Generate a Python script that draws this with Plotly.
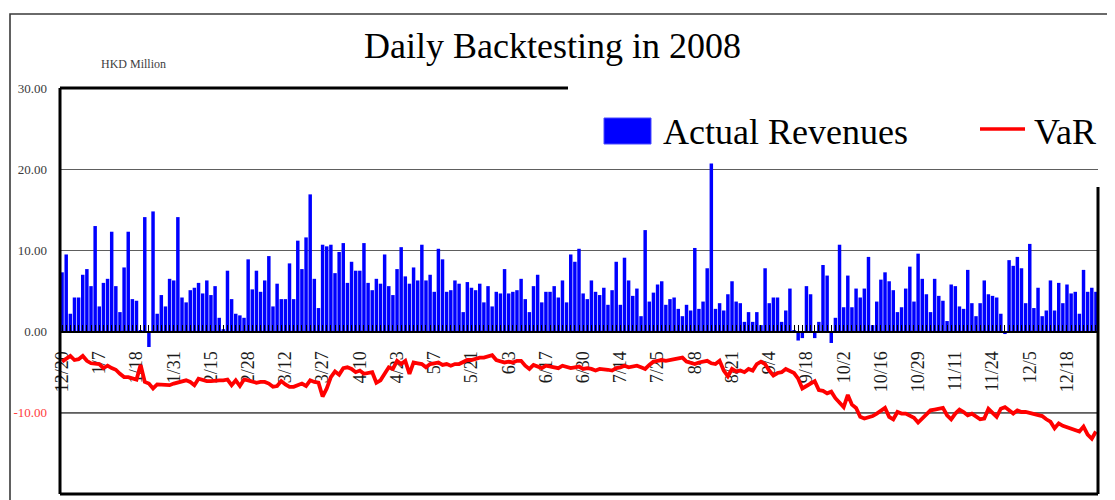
import plotly.graph_objects as go

# ---------------- data (HKD million) ----------------
revenues = [
    7.3, 9.5, 2.2, 4.2, 4.2, 7.0, 7.7, 5.6, 13.0, 3.1,
    6.0, 6.5, 12.3, 5.6, 2.4, 7.9, 12.3, 4.0, 3.8, 0.1,
    14.1, -1.9, 14.8, 2.2, 4.5, 3.1, 6.5, 6.3, 14.1, 4.2,
    3.6, 5.1, 5.4, 6.0, 4.7, 6.3, 4.5, 5.6, 1.7, 0.3,
    7.5, 4.0, 2.2, 2.0, 1.7, 8.9, 5.2, 7.5, 4.9, 6.3,
    9.3, 3.1, 5.9, 4.0, 4.0, 8.4, 4.0, 11.2, 7.7, 11.6,
    16.9, 6.5, 2.9, 10.7, 10.5, 10.7, 7.2, 9.8,
    10.9, 6.0, 8.6, 7.5, 7.5, 10.9, 6.0, 5.1, 6.5, 5.9,
    9.5, 5.6, 4.5, 7.7, 10.4, 6.8, 5.9, 7.9, 6.3, 10.7,
    6.3, 7.0, 4.9, 10.2, 8.9, 4.9, 5.1, 6.3, 5.9, 2.4,
    6.1, 5.4, 5.1, 5.9, 3.6, 5.6, 3.1, 4.9, 4.7, 7.7,
    4.7, 4.9, 5.1, 6.5, 4.0, 2.4, 5.6, 7.0, 3.6, 4.9,
    4.9, 5.6, 4.2, 6.3, 3.6, 9.5, 8.6, 10.2, 4.7, 4.0,
    6.3, 4.9, 4.5, 5.4, 3.3, 5.1, 8.6, 3.3, 9.1, 6.3,
    4.4, 5.3, 1.9, 12.5, 3.7, 4.8, 5.8, 6.2, 3.3, 4.0,
    4.2, 2.8, 1.9, 3.3, 2.6, 10.3, 2.8, 3.7, 7.8, 20.7,
    2.8, 3.5, 2.6, 4.6, 6.2, 3.7, 3.5, 1.2, 2.4, 1.2,
    2.4, 0.8, 7.8, 3.5, 4.2, 4.2, 1.2, 2.6, 5.3, 0.1,
    -1.1, -0.8,
    5.6, 4.6, -0.8, 1.2, 8.2, 6.9, -1.4, 1.7, 10.7, 3.0,
    6.9, 3.0, 5.3, 4.2, 5.3, 9.2, 0.8, 3.7, 6.4, 7.3,
    6.2, 5.1, 2.4, 3.0, 5.3, 8.0, 3.7, 9.6,
    6.5, 4.6, 2.4, 6.5, 4.4, 3.8, 1.3, 5.8, 5.6, 3.1,
    2.8, 7.6, 3.5, 1.9, 3.5, 6.3, 4.6, 4.4, 4.2, 2.2,
    -0.3, 8.8, 8.1, 9.2, 7.8, 3.5, 10.8, 2.9, 5.4, 1.9,
    2.6, 6.3, 2.6, 6.0, 3.5, 5.8, 4.7, 4.9, 2.2, 7.6,
    4.9, 5.4, 4.9,
]

var_values = [
    -3.7, -3.3, -3.0, -3.5, -3.4, -3.0, -3.6, -3.9, -3.9, -4.0,
    -4.5, -4.2, -4.5, -4.7, -5.2, -5.6, -5.6, -5.7, -5.9, -4.1,
    -6.2, -6.4, -7.0, -6.5, -6.5, -6.5, -6.6, -6.4, -6.3, -6.2,
    -6.0, -6.2, -6.6, -5.8, -6.0, -6.1, -6.1, -6.0, -6.0, -6.0,
    -5.9, -6.6, -6.0, -6.7, -5.9, -6.0, -6.2, -6.3, -6.2, -6.2,
    -6.4, -6.8, -6.7, -6.1, -6.5, -6.8, -6.8, -6.6, -6.4, -6.7,
    -6.0, -6.2, -6.3, -8.0, -7.0, -5.6, -4.9, -5.3, -4.5, -4.4,
    -4.6, -5.0, -4.8, -5.2, -5.1, -5.0, -6.3, -6.0, -5.2, -4.4,
    -4.6, -3.6, -4.0, -3.6, -5.2, -3.8, -3.9, -4.0, -4.4, -4.0,
    -3.9, -3.8, -4.1, -4.0, -4.2, -4.0, -4.0, -3.8, -3.5, -3.5,
    -3.3, -3.2, -3.2, -3.1, -2.9, -3.5, -3.6, -3.8, -3.7, -3.8,
    -3.6, -3.6, -4.2, -4.6, -4.1, -4.3, -4.5, -4.2, -4.3, -4.4,
    -4.5, -4.2, -4.3, -4.5, -4.4, -4.3, -4.6, -4.5, -4.6, -4.8,
    -4.6, -4.6, -4.7, -4.8, -4.5, -4.4, -4.2, -4.4, -4.3, -4.2,
    -4.4, -4.6, -4.1, -3.7, -3.6, -3.5, -3.6, -3.5, -3.3, -3.3,
    -3.2, -3.7, -3.8, -4.0, -3.8, -3.7, -3.6, -3.9, -4.0, -3.6,
    -4.8, -5.5, -4.6, -4.9, -4.8, -5.0, -4.6, -4.8, -4.0, -3.7,
    -4.0, -4.8, -5.4, -5.1, -5.0, -4.6, -4.8, -5.1, -5.8, -7.0,
    -6.7, -6.4, -6.1, -7.2, -7.3, -7.6, -7.4, -8.2, -8.7, -9.3,
    -7.8, -9.0, -9.4, -10.5, -10.7, -10.6, -10.4, -10.1, -9.8, -9.4,
    -10.5, -10.8, -9.9, -10.1, -10.1, -10.3, -10.6, -11.2, -10.7, -10.2,
    -9.7, -9.6, -9.5, -9.4, -10.3, -10.8, -10.1, -9.6, -9.9, -10.3,
    -10.1, -10.4, -10.8, -10.7, -9.5, -10.0, -10.5, -9.5, -9.3, -9.7,
    -10.1, -9.7, -9.9, -9.9, -10.0, -10.1, -10.2, -10.4, -10.8, -11.1,
    -11.9, -11.3, -11.6, -11.8, -12.0, -12.1, -12.3, -11.7, -12.7, -13.2,
    -12.3,
]

tick_labels = ["12/20", "1/7", "1/18", "1/31", "2/15", "2/28", "3/12", "3/27",
               "4/10", "4/23", "5/7", "5/21", "6/3", "6/17", "6/30", "7/14",
               "7/25", "8/8", "8/21", "9/4", "9/18", "10/2", "10/16", "10/29",
               "11/11", "11/24", "12/5", "12/18"]
label_step = 9          # one date label every 9 trading days

y_ticks = [30, 20, 10, 0, -10, -20]
y_tick_text = ["30.00", "20.00", "10.00", "0.00",
               '<span style="color:#ff3c3c">-10.00</span>',
               '<span style="color:#ff3c3c">-20.00</span>']

assert len(revenues) == len(var_values)
days = list(range(len(revenues)))
label_pos = [days[i * label_step] for i in range(len(tick_labels))]

# ---------------- geometry (page pixels -> figure paper) ----------------
PAGE_W, PAGE_H = 1115, 500
OFF = 8                         # default body margin of the html page
W, H = PAGE_W - OFF, PAGE_H - OFF
PL, PR, PT, PB = 60, 1098, 88, 494   # plot area in page pixels
ML, MR, MT, MB = PL - OFF, W - (PR - OFF), PT - OFF, H - (PB - OFF)


def pxx(x):
    return (x - PL) / (PR - PL)


def pxy(y):
    return (PB - y) / (PB - PT)


SERIF = "Liberation Serif, Times New Roman, serif"
xr = [-0.5, len(days) - 0.5]

fig = go.Figure()
fig.add_trace(go.Bar(x=days, y=revenues, name="Actual Revenues",
                     marker=dict(color="#0000ff", line=dict(width=0)),
                     showlegend=False, hoverinfo="y"))
fig.add_trace(go.Scatter(x=days, y=var_values, name="VaR", mode="lines",
                         xaxis="x2",
                         line=dict(color="#ff0000", width=3.8),
                         showlegend=False, hoverinfo="y"))

shapes = [
    # white legend backdrop hiding the gridlines in the top-right corner
    dict(type="rect", xref="paper", yref="paper", x0=pxx(569), x1=pxx(1112),
         y0=pxy(187), y1=pxy(80), fillcolor="white", line=dict(width=0),
         layer="between"),
    # outer chart frame
    dict(type="rect", xref="paper", yref="paper", x0=pxx(10), x1=pxx(1125),
         y0=pxy(510), y1=pxy(14), line=dict(color="#3a3a3a", width=1.6),
         fillcolor="rgba(0,0,0,0)"),
    # -10 gridline in black
    dict(type="line", xref="paper", yref="y", x0=0, x1=1, y0=-10, y1=-10,
         line=dict(color="#000000", width=1.2), layer="between"),
    # plot frame
    dict(type="line", xref="paper", yref="paper", x0=0, x1=0, y0=0, y1=1,
         line=dict(color="black", width=3)),
    dict(type="line", xref="paper", yref="paper", x0=0, x1=1, y0=0, y1=0,
         line=dict(color="black", width=3)),
    dict(type="line", xref="paper", yref="paper", x0=0, x1=pxx(568), y0=1, y1=1,
         line=dict(color="black", width=3)),
    dict(type="line", xref="paper", yref="paper", x0=1, x1=1, y0=0, y1=pxy(187),
         line=dict(color="black", width=3)),
    # legend symbols
    dict(type="rect", xref="paper", yref="paper", x0=pxx(604), x1=pxx(651),
         y0=pxy(144), y1=pxy(118), fillcolor="#0000ff",
         line=dict(color="#4a4aff", width=1)),
    dict(type="line", xref="paper", yref="paper", x0=pxx(980), x1=pxx(1025),
         y0=pxy(129), y1=pxy(129), line=dict(color="#ff0000", width=3.6)),
]

annotations = [
    dict(text="Daily Backtesting in 2008", xref="paper", yref="paper",
         x=pxx(552), y=pxy(46), xanchor="center", yanchor="middle",
         showarrow=False, font=dict(family=SERIF, size=36, color="black")),
    dict(text="HKD Million", xref="paper", yref="paper",
         x=pxx(99), y=pxy(64), xanchor="left", yanchor="middle",
         showarrow=False, font=dict(family=SERIF, size=12, color="#404040")),
    dict(text="Actual Revenues", xref="paper", yref="paper",
         x=pxx(661), y=pxy(132), xanchor="left", yanchor="middle",
         showarrow=False, font=dict(family=SERIF, size=36, color="black")),
    dict(text="VaR", xref="paper", yref="paper",
         x=pxx(1032), y=pxy(132), xanchor="left", yanchor="middle",
         showarrow=False, font=dict(family=SERIF, size=36, color="black")),
]

zero_pos = (0 - y_ticks[-1]) / (y_ticks[0] - y_ticks[-1])

fig.update_layout(
    width=W, height=H,
    margin=dict(l=ML, r=MR, t=MT, b=MB, autoexpand=False),
    paper_bgcolor="white", plot_bgcolor="white",
    bargap=0.16,
    showlegend=False,
    font=dict(family=SERIF),
    xaxis=dict(range=xr, anchor="free", position=zero_pos,
               showline=True, linecolor="black", linewidth=2,
               ticks="inside", ticklen=6, tickwidth=1, tickcolor="black",
               tickmode="array", tickvals=days, showticklabels=False,
               showgrid=False, zeroline=False, layer="above traces"),
    xaxis2=dict(range=xr, overlaying="x", anchor="free", position=zero_pos,
                side="bottom", showline=False, ticks="",
                tickmode="array", tickvals=label_pos, ticktext=tick_labels,
                tickangle=-90, ticklabelstandoff=15,
                tickfont=dict(family=SERIF, size=18, color="#1a1a1a"),
                showgrid=False, zeroline=False, layer="below traces"),
    yaxis=dict(range=[y_ticks[-1], y_ticks[0]], domain=[0, 1],
               tickmode="array", tickvals=y_ticks, ticktext=y_tick_text,
               ticks="", ticklabelstandoff=12,
               tickfont=dict(family=SERIF, size=13, color="#3a3a3a"),
               showgrid=True, gridcolor="#5e5e5e", gridwidth=1.3,
               zeroline=False, showline=False),
    shapes=shapes,
    annotations=annotations,
)

fig.write_html("out.html")
